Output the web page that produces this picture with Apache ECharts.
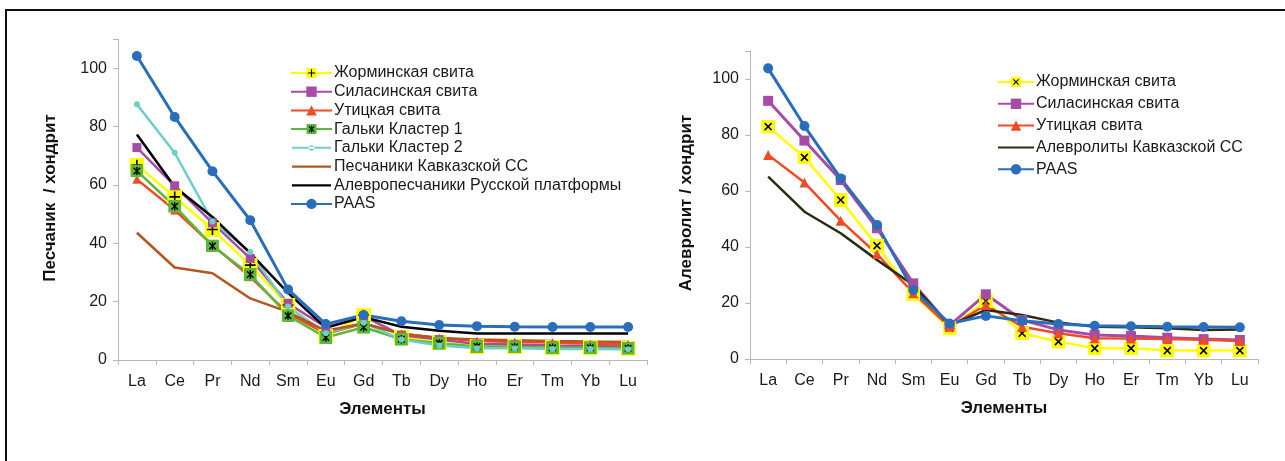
<!DOCTYPE html>
<html lang="ru">
<head>
	<meta charset="UTF-8">
	<title>REE</title>
	<style>
		html, body { margin: 0; padding: 0; background: #fff; }
		#main { width: 1285px; height: 461px; }
	</style>
</head>
<body>
	<div id="main"></div>
	<script src="https://cdn.jsdelivr.net/npm/echarts@6/dist/echarts.min.js"></script>
	<script>
		// элементы (ось X)
		var elements = ['La', 'Ce', 'Pr', 'Nd', 'Sm', 'Eu', 'Gd', 'Tb', 'Dy', 'Ho', 'Er', 'Tm', 'Yb', 'Lu'];
		var yTicks = [0, 20, 40, 60, 80, 100];

		// левый график: песчаник / хондрит
		var zhorm1 = [66.8, 55.9, 44.7, 32.5, 18.8, 8.2, 15.4, 7.8, 6.0, 4.6, 4.6, 4.3, 4.3, 4.0];
		var silas1 = [72.8, 59.7, 47.0, 34.8, 19.4, 11.2, 15.0, 8.5, 7.0, 5.5, 5.3, 5.0, 4.8, 4.6];
		var utits1 = [61.9, 51.4, 39.4, 28.5, 16.0, 9.0, 12.5, 9.0, 7.5, 6.5, 6.2, 6.0, 5.6, 5.4];
		var galki1 = [64.8, 52.7, 39.1, 29.3, 15.2, 7.7, 11.2, 7.1, 5.7, 4.6, 4.5, 4.2, 4.2, 4.0];
		var galki2 = [87.6, 71.0, 47.5, 37.0, 18.3, 9.2, 12.8, 7.0, 5.0, 4.0, 4.0, 3.8, 3.8, 3.7];
		var peschKavk = [43.6, 31.7, 29.7, 21.1, 16.5, 10.0, 12.5, 9.0, 7.5, 7.0, 6.8, 6.5, 6.3, 6.2];
		var alevRus = [77.3, 59.4, 49.0, 36.6, 23.0, 11.0, 14.7, 11.4, 10.0, 9.1, 9.1, 9.1, 9.1, 9.1];
		var paas = [104.2, 83.3, 64.7, 47.9, 24.2, 12.3, 15.4, 13.3, 12.0, 11.6, 11.4, 11.3, 11.3, 11.3];

		// правый график: алевролит / хондрит
		var zhorm2 = [83.0, 72.0, 56.8, 40.5, 23.1, 11.0, 20.7, 9.2, 6.2, 3.8, 3.8, 3.0, 3.0, 3.0];
		var silas2 = [92.2, 78.0, 63.9, 46.7, 27.0, 12.0, 23.1, 13.9, 10.4, 8.6, 8.2, 7.6, 7.1, 6.8];
		var utits2 = [72.9, 63.0, 49.4, 37.5, 23.5, 11.5, 19.3, 11.5, 9.2, 7.4, 7.3, 7.1, 6.9, 6.4];
		var alevKavk = [65.1, 52.6, 44.9, 35.4, 26.4, 12.0, 17.5, 15.7, 13.0, 11.5, 11.3, 11.0, 10.4, 10.5];
		var paas2 = [103.8, 83.2, 64.5, 47.9, 24.6, 12.7, 15.4, 13.7, 12.5, 11.9, 11.7, 11.5, 11.4, 11.3];

		var font = 'Liberation Sans, Arial, sans-serif';

		function svgSymbol(fill, glyph) {
			var svg = "<svg xmlns='http://www.w3.org/2000/svg' width='28' height='28'>" +
				"<rect width='28' height='28' fill='" + fill + "'/>" +
				"<path d='" + glyph + "' stroke='#000' stroke-width='3' fill='none'/></svg>";
			return 'image://data:image/svg+xml;charset=utf-8,' + encodeURIComponent(svg);
		}
		var plusSym = svgSymbol('#ffff00', 'M14 4V24M4 14H24');
		var crossSym = svgSymbol('#ffff00', 'M7 7L21 21M21 7L7 21');
		var starSym = svgSymbol('#5cb83a', 'M14 5V23M7 7L21 21M21 7L7 21');

		// значки легенды: просто линия / линия с маленькой точкой
		var plainLineIcon = 'path://M0 0h0.01v0.01H0zM0 6h42v2.4H0zM41.99 13.99h0.01v0.01h-0.01z';
		var dotLineIcon = 'path://M0 0h0.01v0.01H0zM0 6h42v2H0zM21 4.2a3 3 0 1 0 0.01 0zM41.99 13.99h0.01v0.01h-0.01z';

		function xAxis(idx) {
			return {
				type: 'category',
				gridIndex: idx,
				data: elements,
				boundaryGap: true,
				axisLine: { lineStyle: { color: '#b8b8b8', width: 1 } },
				axisTick: { show: true, length: 5, lineStyle: { color: '#b8b8b8' } },
				axisLabel: { color: '#1a1a1a', fontSize: 16, fontFamily: font, margin: 14 },
				name: 'Элементы',
				nameLocation: 'middle',
				nameGap: 41,
				nameTextStyle: { color: '#111', fontSize: 17, fontWeight: 'bold', fontFamily: font }
			};
		}
		function yAxis(idx) {
			return {
				type: 'value',
				gridIndex: idx,
				min: 0,
				max: 110,
				interval: 20,
				splitLine: { show: false },
				axisLine: { show: true, lineStyle: { color: '#b8b8b8', width: 1 } },
				axisTick: { show: true, length: 5, lineStyle: { color: '#b8b8b8' } },
				axisLabel: {
					color: '#1a1a1a', fontSize: 16, fontFamily: font, margin: 11,
					formatter: function (v) { return yTicks.indexOf(v) >= 0 ? String(v) : ''; }
				}
			};
		}
		function line(name, data, idx, color, width, symbol, size) {
			return {
				name: name,
				type: 'line',
				xAxisIndex: idx,
				yAxisIndex: idx,
				data: data,
				symbol: symbol || 'none',
				symbolSize: size || 0,
				showSymbol: !!symbol,
				lineStyle: { color: color, width: width },
				itemStyle: { color: color },
				emphasis: { disabled: true },
				animation: false
			};
		}
		var legendText = { color: '#1a1a1a', fontSize: 16, lineHeight: 16, fontFamily: font, padding: [0, 0, 0, -3] };

		var myChart = echarts.init(document.getElementById('main'));

		var option = {
			animation: false,
			grid: [
				{ left: 118, top: 39, width: 529, bottom: 101 },
				{ left: 750, top: 51, width: 508, bottom: 102 }
			],
			xAxis: [xAxis(0), xAxis(1)],
			yAxis: [yAxis(0), yAxis(1)],
			legend: [{
				data: ['Жорминская свита', 'Силасинская свита', 'Утицкая свита', 'Гальки Кластер 1',
					{ name: 'Гальки Кластер 2', icon: dotLineIcon },
					{ name: 'Песчаники Кавказской СС', icon: plainLineIcon },
					{ name: 'Алевропесчаники Русской платформы', icon: plainLineIcon },
					'PAAS'],
				orient: 'vertical',
				left: 285,
				top: 60,
				itemWidth: 41,
				itemHeight: 13,
				itemGap: 2.7,
				textStyle: legendText,
				selectedMode: false
			}, {
				data: ['Жорминская свита ', 'Силасинская свита ', 'Утицкая свита ',
					{ name: 'Алевролиты Кавказской СС', icon: plainLineIcon }, 'PAAS '],
				orient: 'vertical',
				left: 992,
				top: 69,
				itemWidth: 36,
				itemHeight: 13,
				itemGap: 5.8,
				textStyle: legendText,
				selectedMode: false
			}],
			graphic: [{
				type: 'rect',
				shape: { x: 6, y: 10, width: 1300, height: 470 },
				style: { fill: 'none', stroke: '#111', lineWidth: 2 },
				silent: true
			}, {
				type: 'text',
				x: 50,
				y: 198,
				rotation: Math.PI / 2,
				style: {
					text: 'Песчаник  / хондрит',
					fill: '#111',
					font: 'bold 17px ' + font,
					align: 'center',
					verticalAlign: 'middle'
				}
			}, {
				type: 'text',
				x: 686,
				y: 203,
				rotation: Math.PI / 2,
				style: {
					text: 'Алевролит / хондрит',
					fill: '#111',
					font: 'bold 17px ' + font,
					align: 'center',
					verticalAlign: 'middle'
				}
			}],
			series: [
				line('Жорминская свита', zhorm1, 0, '#ffff00', 2.5, plusSym, 15),
				line('Силасинская свита', silas1, 0, '#a64ca6', 2.5, 'rect', 9),
				line('Утицкая свита', utits1, 0, '#f24a25', 2.5, 'triangle', 9),
				line('Гальки Кластер 1', galki1, 0, '#5cb83a', 2.5, starSym, 13),
				line('Гальки Кластер 2', galki2, 0, '#6fcfc8', 2.5, 'circle', 6),
				line('Песчаники Кавказской СС', peschKavk, 0, '#b5561e', 2.5),
				line('Алевропесчаники Русской платформы', alevRus, 0, '#000000', 2.5),
				line('PAAS', paas, 0, '#2a6ebb', 3, 'circle', 10),

				line('Жорминская свита ', zhorm2, 1, '#ffff00', 2.5, crossSym, 14),
				line('Силасинская свита ', silas2, 1, '#a64ca6', 3, 'rect', 10),
				line('Утицкая свита ', utits2, 1, '#f24a25', 2.5, 'triangle', 10),
				line('Алевролиты Кавказской СС', alevKavk, 1, '#2b2b12', 2.5),
				line('PAAS ', paas2, 1, '#2a6ebb', 3, 'circle', 10)
			]
		};

		myChart.setOption(option);
	</script>
</body>
</html>
